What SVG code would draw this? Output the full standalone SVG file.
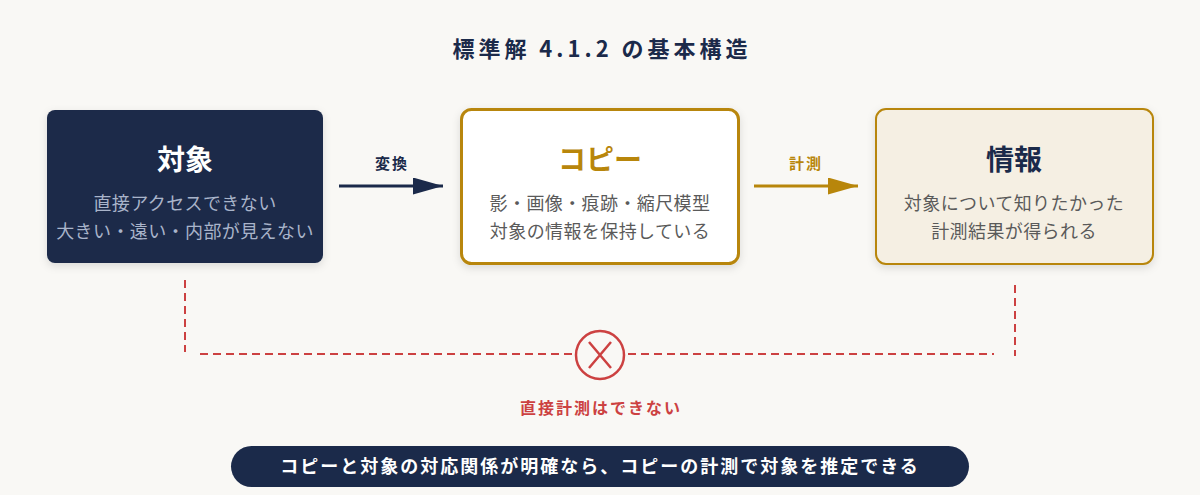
<svg xmlns="http://www.w3.org/2000/svg" width="1200" height="495" viewBox="0 0 1200 495">
<defs>
<style>
text{font-family:"Noto Sans CJK JP","Noto Sans",sans-serif;text-anchor:middle}
.title{font-size:22px;font-weight:700;fill:#1b2a4a;letter-spacing:4px}
.h{font-size:28px;font-weight:700}
.sub{font-size:18px;letter-spacing:0.4px}
.lbl{font-size:15px;font-weight:700;letter-spacing:2px}
.dash{stroke:#cc4141;stroke-width:2;stroke-dasharray:8 5;fill:none}
</style>
<filter id="sh" x="-10%" y="-10%" width="120%" height="130%">
<feDropShadow dx="0" dy="3" stdDeviation="4" flood-color="#000" flood-opacity="0.12"/>
</filter>
<marker id="an" viewBox="0 0 10 10" refX="10" refY="5" markerWidth="30" markerHeight="17" markerUnits="userSpaceOnUse" orient="auto" preserveAspectRatio="none">
<path d="M0,0 L10,5 L0,10 z" fill="#1b2a4a"/>
</marker>
<marker id="ag" viewBox="0 0 10 10" refX="10" refY="5" markerWidth="30" markerHeight="17" markerUnits="userSpaceOnUse" orient="auto" preserveAspectRatio="none">
<path d="M0,0 L10,5 L0,10 z" fill="#b8860b"/>
</marker>
</defs>
<rect width="1200" height="495" fill="#f9f8f5"/>
<text class="title" x="602" y="57">標準解 4.1.2 の基本構造</text>

<g id="node-taisho">
<rect x="47" y="110" width="276" height="153" rx="8" fill="#1b2a4a" filter="url(#sh)"/>
<text class="h" x="185" y="170" fill="#ffffff">対象</text>
<text class="sub" x="185" y="210" fill="#a9b4ca">直接アクセスできない</text>
<text class="sub" x="185" y="238" fill="#a9b4ca">大きい・遠い・内部が見えない</text>
</g>

<g id="node-copy">
<rect x="461.5" y="109.5" width="277" height="154" rx="10" fill="#ffffff" stroke="#b8860b" stroke-width="3" filter="url(#sh)"/>
<text class="h" x="600" y="170" fill="#b8860b">コピー</text>
<text class="sub" x="600" y="210" fill="#5a5a5a">影・画像・痕跡・縮尺模型</text>
<text class="sub" x="600" y="238" fill="#5a5a5a">対象の情報を保持している</text>
</g>

<g id="node-info">
<rect x="876" y="109" width="277" height="155" rx="10" fill="#f5efe3" stroke="#b8860b" stroke-width="2" filter="url(#sh)"/>
<text class="h" x="1014" y="170" fill="#1b2a4a">情報</text>
<text class="sub" x="1014" y="210" fill="#5a5a5a">対象について知りたかった</text>
<text class="sub" x="1014" y="238" fill="#5a5a5a">計測結果が得られる</text>
</g>

<g id="connectors">
<line x1="339" y1="186" x2="443" y2="186" stroke="#1b2a4a" stroke-width="3" marker-end="url(#an)"/>
<text class="lbl" x="392" y="169" fill="#1b2a4a">変換</text>
<line x1="754" y1="186" x2="858" y2="186" stroke="#b8860b" stroke-width="3" marker-end="url(#ag)"/>
<text class="lbl" x="806" y="169" fill="#b8860b">計測</text>
<path class="dash" d="M185,280 V352"/>
<path class="dash" d="M200,354 H574"/>
<path class="dash" d="M628,354 H994"/>
<path class="dash" d="M1015,285 V356"/>
<circle cx="600" cy="355" r="24" fill="none" stroke="#cc4141" stroke-width="2.5"/>
<path d="M589,342 L611,368 M611,342 L589,368" stroke="#cc4141" stroke-width="2.5" fill="none"/>
<text class="lbl" x="601" y="414" fill="#cc4141" style="font-size:16px">直接計測はできない</text>
</g>

<g id="note">
<rect x="231" y="446" width="738" height="41" rx="20.5" fill="#1b2a4a"/>
<text x="600" y="473" fill="#ffffff" style="font-size:18px;font-weight:700;letter-spacing:2px">コピーと対象の対応関係が明確なら、コピーの計測で対象を推定できる</text>
</g>
</svg>
